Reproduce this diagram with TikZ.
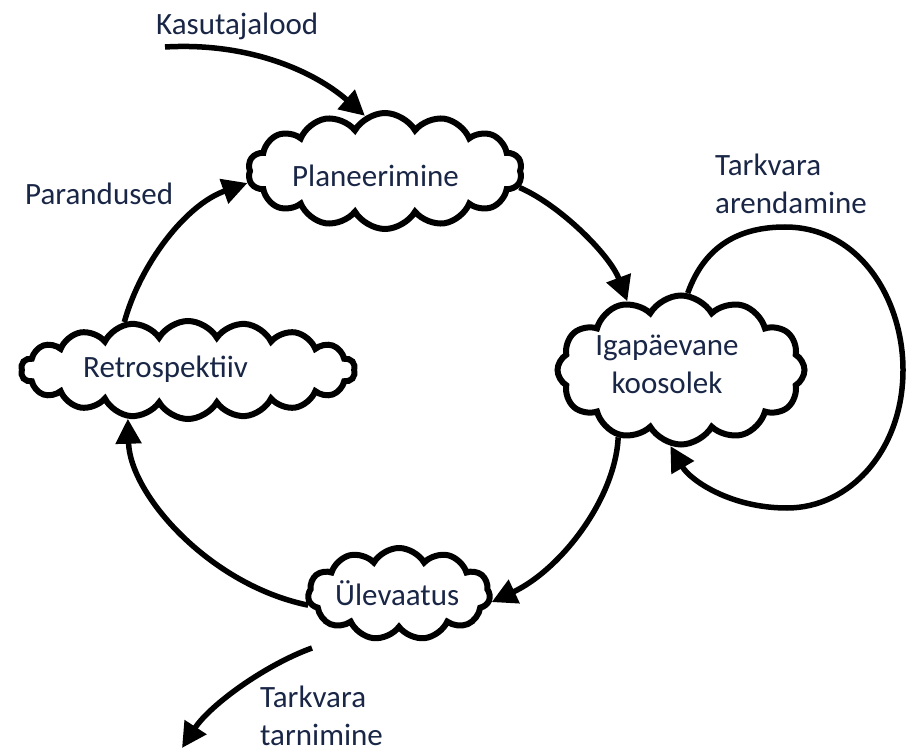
\documentclass[tikz,border=0pt]{standalone}
\usepackage{fontspec}
\setmainfont{Carlito}
\usetikzlibrary{shapes.symbols,arrows.meta}
\definecolor{txt}{RGB}{25,38,70}
\begin{document}
\begin{tikzpicture}[x=1pt,y=-1pt,
  cloudbox/.style={cloud, draw=black, line width=6pt, cloud ignores aspect, inner sep=0pt, fill=white, cloud puff arc=120},
  lbl/.style={font=\fontsize{31}{38}\selectfont, text=txt, inner sep=0pt},
  arr/.style={line width=5.5pt, -{Triangle[length=25pt,width=25pt]}},
]
\useasboundingbox (0,0) rectangle (907,751);
% clouds
\node[cloudbox, cloud puffs=14, minimum width=274pt, minimum height=116pt] (plan) at (385,171) {};
\node[cloudbox, cloud puffs=18, minimum width=334pt, minimum height=98pt] (retro) at (188,370) {};
\node[cloudbox, cloud puffs=12, minimum width=247pt, minimum height=149pt] (iga) at (681,370) {};
\node[cloudbox, cloud puffs=11, minimum width=182pt, minimum height=92pt] (ulev) at (399,594) {};
% texts
\node[lbl, anchor=base west] (tkas) at (156,35) {Kasutajalood};
\node[lbl, anchor=base west] (tplan) at (292,187) {Planeerimine};
\node[lbl, anchor=base west] (tpar) at (25,205) {Parandused};
\node[lbl, anchor=base west] (tretro) at (83,377) {Retrospektiiv};
\node[lbl, anchor=base, align=center] (tiga) at (667,393) {Igapäevane\\koosolek};
\node[lbl, anchor=base west] (tulev) at (335,605) {Ülevaatus};
\node[lbl, anchor=base west, align=left] (tdev) at (715,214) {Tarkvara\\arendamine};
\node[lbl, anchor=base west, align=left] (tdel) at (260,745) {Tarkvara\\tarnimine};
% free ends
\coordinate (kstart) at (165,47);
\coordinate (dstart) at (312,648);
\coordinate (dend) at (182,748);
% connectors
\draw[arr] (kstart) .. controls (250,42) and (315,72) .. (plan.110);
\draw[arr] (retro.143) .. controls (140,265) and (185,205) .. (plan.185);
\draw[arr] (plan.353) .. controls (560,205) and (610,255) .. (iga.128);
\draw[arr] (iga.227) .. controls (615,500) and (560,570) .. (ulev.355);
\draw[arr] (ulev.187) .. controls (210,585) and (130,495) .. (retro.219);
\draw[arr] (dstart) .. controls (265,665) and (210,705) .. (dend);
\draw[arr] (iga.85) .. controls (705,245) and (740,227) .. (785,227)
  .. controls (860,227) and (903,300) .. (903,370)
  .. controls (903,450) and (850,508) .. (787,508)
  .. controls (730,508) and (690,480) .. (iga.262);
\end{tikzpicture}
\end{document}
